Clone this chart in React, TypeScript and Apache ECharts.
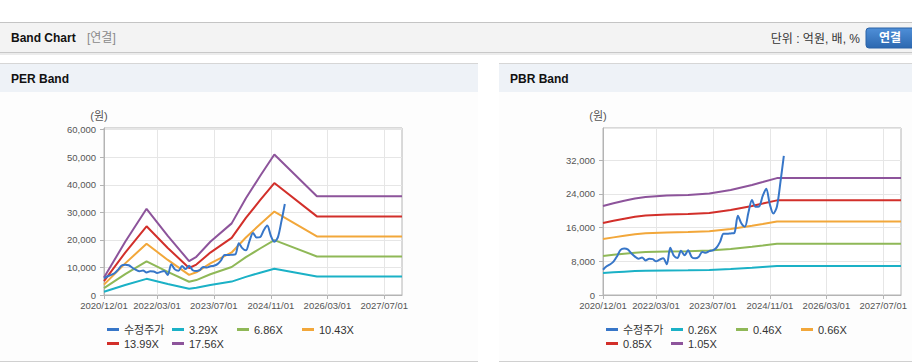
import React, { useEffect, useRef } from 'react';
import * as echarts from 'echarts';

const FONT = "'Liberation Sans', 'Noto Sans CJK KR', Arial, sans-serif";

// ---- x axis ----
const xMin = '2020-12-01';
const xMax = '2027-12-01';
const xTickDates = ['2020-12-01', '2022-03-01', '2023-07-01', '2024-11-01', '2026-03-01', '2027-07-01'];

// ---- price (수정주가), shared by both charts ----
const priceDates = [
  '2020-12', '2021-01', '2021-02', '2021-03', '2021-04', '2021-05', '2021-06', '2021-07', '2021-08', '2021-09', '2021-10', '2021-11',
  '2021-12', '2022-01', '2022-02', '2022-03', '2022-04', '2022-05', '2022-06', '2022-07', '2022-08', '2022-09', '2022-10', '2022-11',
  '2022-12', '2023-01', '2023-02', '2023-03', '2023-04', '2023-05', '2023-06', '2023-07', '2023-08', '2023-09', '2023-10', '2023-11',
  '2023-12', '2024-01', '2024-02', '2024-03', '2024-04', '2024-05', '2024-06', '2024-07', '2024-08', '2024-09', '2024-10', '2024-11',
  '2024-12', '2025-01', '2025-02', '2025-03',
];
const priceValues = [
  6000, 6800, 7300, 7900, 9200, 10700, 11000, 10800, 9900, 9100, 8600, 8900,
  8200, 8600, 8500, 8000, 8400, 8700, 7300, 11200, 9300, 8800, 10500, 9400,
  10600, 9000, 8700, 9000, 10200, 10000, 10400, 10600, 11200, 12600, 14500, 14500,
  14600, 14700, 18800, 17000, 16200, 19500, 22500, 20900, 21000, 23500, 25200, 21500,
  19300, 21000, 27000, 33000,
];

// ---- PER band ----
const perNames = ['3.29X', '6.86X', '10.43X', '13.99X', '17.56X'];
const perDates = ['2020-12', '2021-06', '2021-12', '2022-06', '2022-12', '2023-02', '2023-06', '2023-12', '2024-04', '2024-08', '2024-12', '2025-12', '2027-12'];
const per329 = [1184, 3619, 5863, 4014, 2303, 2599, 3619, 4869, 6580, 8093, 9554, 6708, 6708];
const per686 = [2470, 7546, 12225, 8369, 4802, 5419, 7546, 10153, 13720, 16876, 19921, 13988, 13988];
const per1043 = [3755, 11473, 18586, 12725, 7301, 8240, 11473, 15436, 20860, 25658, 30289, 21267, 21267];
const per1399 = [5036, 15389, 24930, 17068, 9793, 11052, 15389, 20705, 27980, 34415, 40627, 28526, 28526];
const per1756 = [6322, 19316, 31292, 21423, 12292, 13872, 19316, 25989, 35120, 43198, 50994, 35805, 35805];

// ---- PBR band ----
const pbrNames = ['0.26X', '0.46X', '0.66X', '0.85X', '1.05X'];
const pbrDates = ['2020-12', '2021-03', '2021-06', '2021-09', '2021-12', '2022-06', '2022-12', '2023-06', '2023-12', '2024-06', '2024-09', '2025-01', '2027-12'];
const pbr026 = [5226, 5382, 5538, 5668, 5759, 5837, 5876, 5954, 6162, 6461, 6630, 6864, 6864];
const pbr046 = [9246, 9522, 9798, 10028, 10189, 10327, 10396, 10534, 10902, 11431, 11730, 12144, 12144];
const pbr066 = [13266, 13662, 14058, 14388, 14619, 14817, 14916, 15114, 15642, 16401, 16830, 17424, 17424];
const pbr085 = [17085, 17595, 18105, 18530, 18828, 19083, 19210, 19465, 20145, 21123, 21675, 22440, 22440];
const pbr105 = [21105, 21735, 22365, 22890, 23258, 23573, 23730, 24045, 24885, 26093, 26775, 27720, 27720];

const priceName = '수정주가';
const bandColors = ['#1bb1c6', '#8fb857', '#f2a73a', '#d22f2a', '#8d549b'];
const priceColor = '#3776c8';

const pad = (n: number) => (n < 10 ? '0' + n : '' + n);
// date string 'YYYY-MM' or 'YYYY-MM-DD' -> timestamp (local)
const ts = (s: string) => {
  const p = s.split('-').map(Number);
  return new Date(p[0], p[1] - 1, p[2] || 1).getTime();
};
const fmtDate = (v: number) => {
  const d = new Date(v);
  return `${d.getFullYear()}/${pad(d.getMonth() + 1)}/${pad(d.getDate())}`;
};

const zip = (dates: string[], vals: number[]) => dates.map((d, i) => [ts(d), vals[i]]);

function makeXAxis(gridIndex: number) {
  const ticks = xTickDates.map(ts);
  return {
    type: 'value',
    gridIndex,
    min: ts(xMin),
    max: ts(xMax),
    axisLine: { show: true, onZero: false, lineStyle: { color: '#b4b4b4', width: 1 } },
    axisTick: { show: true, length: 4, customValues: ticks, lineStyle: { color: '#b4b4b4' } },
    axisLabel: {
      customValues: ticks,
      formatter: (v: number) => fmtDate(v),
      fontSize: 9.5,
      color: '#555',
      margin: 6,
      hideOverlap: false,
    },
    splitLine: { show: true, lineStyle: { color: '#e6e6e6', width: 1 } },
  };
}

function makeYAxis(gridIndex: number, max: number, interval: number) {
  return {
    type: 'value',
    gridIndex,
    min: 0,
    max,
    interval,
    name: '(원)',
    nameLocation: 'end',
    nameGap: 7,
    nameTextStyle: { fontSize: 11, color: '#555', padding: [0, 10, 0, 0] },
    axisLine: { show: true, lineStyle: { color: '#b4b4b4', width: 1 } },
    axisTick: { show: true, length: 4, lineStyle: { color: '#b4b4b4' } },
    axisLabel: { fontSize: 9.5, color: '#555', margin: 8, showMaxLabel: false },
    splitLine: { show: true, lineStyle: { color: '#e6e6e6', width: 1 } },
  };
}

function lineSeries(name: string, data: any[], color: string, idx: number, z: number, smooth: number | boolean) {
  return {
    type: 'line',
    name,
    xAxisIndex: idx,
    yAxisIndex: idx,
    data,
    showSymbol: false,
    symbol: 'none',
    smooth,
    z,
    color,
    lineStyle: { color, width: 2 },
    emphasis: { disabled: true },
  };
}

function makeLegend(left: number, names: string[]) {
  return {
    left,
    top: 324,
    width: 262,
    padding: 0,
    orient: 'horizontal',
    itemWidth: 12,
    itemHeight: 3,
    itemGap: 3,
    icon: 'rect',
    selectedMode: false,
    data: names,
    textStyle: { fontSize: 11, color: '#333', width: 45, lineHeight: 11, fontFamily: FONT },
  };
}

function panelGraphics(x: number, w: number, title: string) {
  return [
    { type: 'rect', z: -5, shape: { x, y: 64, width: w, height: 298 }, style: { fill: '#fdfdfd' } },
    { type: 'rect', z: -4, shape: { x, y: 64, width: w, height: 28 }, style: { fill: '#eef2f7' } },
    { type: 'rect', z: -3, shape: { x, y: 63, width: w, height: 1 }, style: { fill: '#d6d6d6' } },
    { type: 'rect', z: -3, shape: { x, y: 361, width: w, height: 1 }, style: { fill: '#d0d0d0' } },
    {
      type: 'text', z: -2,
      style: { text: title, x: x + 11, y: 79, font: `bold 12px ${FONT}`, fill: '#111', align: 'left', verticalAlign: 'middle', textAlign: 'left', textVerticalAlign: 'middle' },
    },
  ];
}

export default function App() {
  const ref = useRef<HTMLDivElement>(null);
  useEffect(() => {
    document.body.style.margin = '0';
    document.body.style.background = '#ffffff';
    if (!ref.current) return;
    const chart = echarts.init(ref.current, null, { renderer: 'svg' });

    const perBands = [per329, per686, per1043, per1399, per1756];
    const pbrBands = [pbr026, pbr046, pbr066, pbr085, pbr105];

    const series: any[] = [];
    series.push(lineSeries(priceName, zip(priceDates, priceValues), priceColor, 0, 5, 0.3));
    perBands.forEach((vals, i) => series.push(lineSeries(perNames[i], zip(perDates, vals), bandColors[i], 0, 3, false)));
    series.push(lineSeries(priceName, zip(priceDates, priceValues), priceColor, 1, 5, 0.3));
    pbrBands.forEach((vals, i) => series.push(lineSeries(pbrNames[i], zip(pbrDates, vals), bandColors[i], 1, 3, false)));

    const buttonFill = new echarts.graphic.LinearGradient(0, 0, 0, 1, [
      { offset: 0, color: '#4f8fd8' },
      { offset: 1, color: '#2c68b0' },
    ]);

    const option: any = {
      animation: false,
      backgroundColor: '#ffffff',
      textStyle: { fontFamily: FONT },
      graphic: [
        { type: 'rect', z: -5, shape: { x: 0, y: 22, width: 912, height: 1 }, style: { fill: '#c4c4c4' } },
        { type: 'rect', z: -5, shape: { x: 0, y: 23, width: 912, height: 29 }, style: { fill: '#f3f3f3' } },
        { type: 'rect', z: -5, shape: { x: 0, y: 52, width: 912, height: 1 }, style: { fill: '#c8c8c8' } },
        { type: 'rect', z: -5, shape: { x: 0, y: 53, width: 912, height: 2 }, style: { fill: '#ececec' } },
        {
          type: 'text', z: -2,
          style: { text: 'Band Chart', x: 11, y: 38, font: `bold 12px ${FONT}`, fill: '#111', align: 'left', verticalAlign: 'middle', textAlign: 'left', textVerticalAlign: 'middle' },
        },
        {
          type: 'text', z: -2,
          style: { text: '[연결]', x: 87, y: 38, font: `12px ${FONT}`, fill: '#8a8a8a', align: 'left', verticalAlign: 'middle', textAlign: 'left', textVerticalAlign: 'middle' },
        },
        {
          type: 'text', z: -2,
          style: { text: '단위 : 억원, 배, %', x: 860, y: 39, font: `12px ${FONT}`, fill: '#333', align: 'right', verticalAlign: 'middle', textAlign: 'right', textVerticalAlign: 'middle' },
        },
        { type: 'rect', z: -2, shape: { x: 866, y: 28, width: 50, height: 20, r: 3 }, style: { fill: buttonFill, stroke: '#2a62a6', lineWidth: 1 } },
        {
          type: 'text', z: -1,
          style: { text: '연결', x: 890, y: 38, font: `bold 12px ${FONT}`, fill: '#ffffff', align: 'center', verticalAlign: 'middle', textAlign: 'center', textVerticalAlign: 'middle' },
        },
        ...panelGraphics(0, 478, 'PER Band'),
        ...panelGraphics(499, 413, 'PBR Band'),
      ],
      grid: [
        { left: 104, top: 128, width: 298, height: 167, show: true, borderColor: '#b4b4b4', borderWidth: 1, backgroundColor: '#ffffff', containLabel: false, outerBoundsMode: 'none' },
        { left: 603, top: 128, width: 298, height: 167, show: true, borderColor: '#b4b4b4', borderWidth: 1, backgroundColor: '#ffffff', containLabel: false, outerBoundsMode: 'none' },
      ],
      xAxis: [makeXAxis(0), makeXAxis(1)],
      yAxis: [makeYAxis(0, 60600, 10000), makeYAxis(1, 39600, 8000)],
      legend: [
        makeLegend(107, [priceName, ...perNames]),
        makeLegend(606, [priceName, ...pbrNames]),
      ],
      series,
    };
    chart.setOption(option);
    return () => chart.dispose();
  }, []);
  return <div ref={ref} style={{ position: 'absolute', left: 0, top: 0, width: 912, height: 364 }} />;
}
